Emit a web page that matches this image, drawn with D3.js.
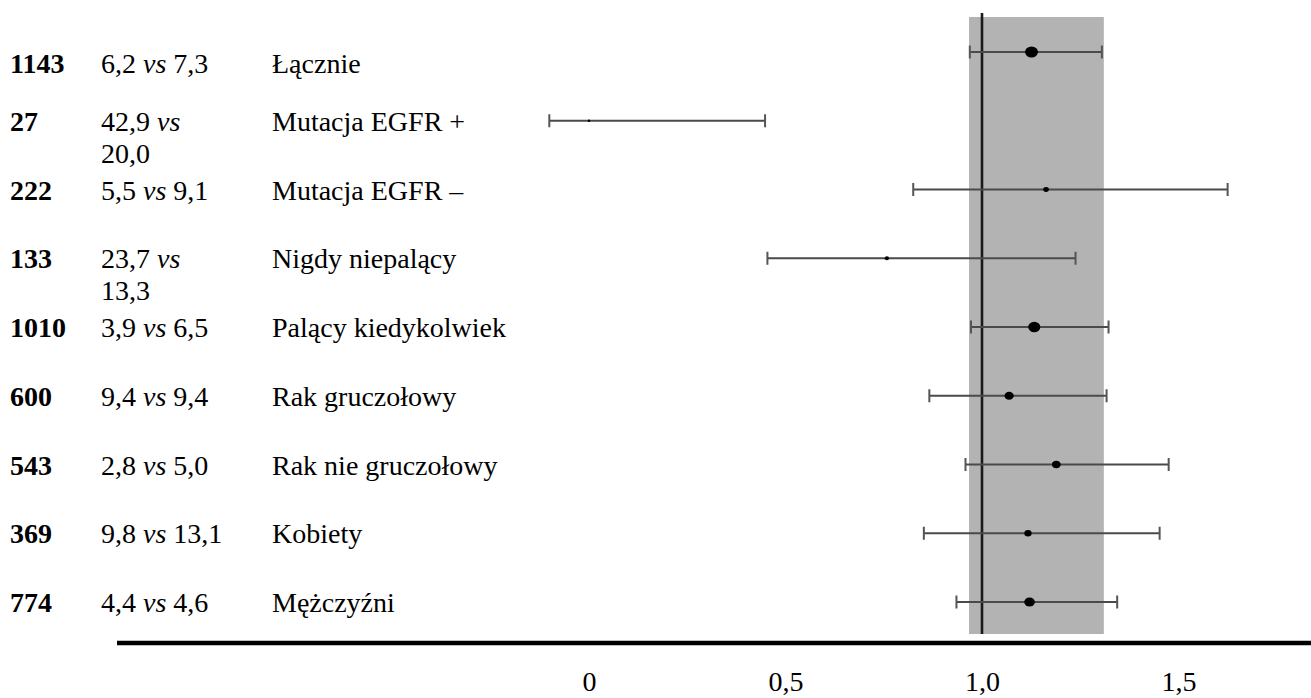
<!DOCTYPE html>
<html>
<head>
<meta charset="utf-8">
<script src="https://cdn.jsdelivr.net/npm/d3@7"></script>
<style>
  html, body { margin: 0; padding: 0; background: #fff; }
  svg { display: block; }
  text { font-family: "Liberation Serif", "Times New Roman", serif; fill: #000; }
</style>
</head>
<body>
<svg id="chart" width="1311" height="698"></svg>
<script>
// ---- data ----
const patients   = [1143, 27, 222, 133, 1010, 600, 543, 369, 774];
const rateA      = ["6,2", "42,9", "5,5", "23,7", "3,9", "9,4", "2,8", "9,8", "4,4"];
const rateB      = ["7,3", "20,0", "9,1", "13,3", "6,5", "9,4", "5,0", "13,1", "4,6"];
const subgroups  = ["Łącznie", "Mutacja EGFR +", "Mutacja EGFR –", "Nigdy niepalący",
                    "Palący kiedykolwiek", "Rak gruczołowy", "Rak nie gruczołowy",
                    "Kobiety", "Mężczyźni"];
const hr         = [1.126, 0.0, 1.163, 0.758, 1.133, 1.069, 1.189, 1.117, 1.121];
const ciLow      = [0.969, -0.101, 0.825, 0.454, 0.972, 0.866, 0.958, 0.852, 0.935];
const ciHigh     = [1.305, 0.448, 1.625, 1.238, 1.322, 1.317, 1.475, 1.452, 1.344];
const bandRange  = [0.967, 1.31];
const refValue   = 1.0;
const tickValues = [0, 0.5, 1.0, 1.5];
const tickLabels = ["0", "0,5", "1,0", "1,5"];

// ---- layout ----
const svg = d3.select("#chart");
const FS = 28;
const x = d3.scaleLinear().domain([0, 1]).range([589, 982]);
const y = d3.scaleLinear().domain([0, patients.length - 1]).range([52, 602]);
const r = d3.scaleSqrt().domain([0, d3.max(patients)]).range([0, 5.6]);

const rows = patients.map((n, i) => ({
  n, a: rateA[i], b: rateB[i], name: subgroups[i],
  hr: hr[i], lo: ciLow[i], hi: ciHigh[i], i
}));

// grey band
svg.append("rect")
  .attr("x", x(bandRange[0]))
  .attr("y", 17)
  .attr("width", x(bandRange[1]) - x(bandRange[0]))
  .attr("height", 634 - 17)
  .attr("fill", "#b3b3b3");

// reference line
svg.append("line")
  .attr("x1", x(refValue)).attr("x2", x(refValue))
  .attr("y1", 13).attr("y2", 634)
  .attr("stroke", "#1a1a1a").attr("stroke-width", 2.6);

// whiskers
const g = svg.append("g");
const cap = 6.5;
const rowG = g.selectAll("g.row").data(rows).join("g").attr("class", "row");
rowG.append("line")
  .attr("x1", d => x(d.lo)).attr("x2", d => x(d.hi))
  .attr("y1", d => y(d.i)).attr("y2", d => y(d.i))
  .attr("stroke", "#4a4a4a").attr("stroke-width", 1.8);
rowG.append("line")
  .attr("x1", d => x(d.lo)).attr("x2", d => x(d.lo))
  .attr("y1", d => y(d.i) - cap).attr("y2", d => y(d.i) + cap)
  .attr("stroke", "#555").attr("stroke-width", 2);
rowG.append("line")
  .attr("x1", d => x(d.hi)).attr("x2", d => x(d.hi))
  .attr("y1", d => y(d.i) - cap).attr("y2", d => y(d.i) + cap)
  .attr("stroke", "#555").attr("stroke-width", 2);
rowG.append("ellipse")
  .attr("cx", d => x(d.hr)).attr("cy", d => y(d.i))
  .attr("rx", d => Math.max(1.3, r(d.n) * 1.15))
  .attr("ry", d => Math.max(1.2, r(d.n)))
  .attr("fill", "#000");

// text columns
const textY = d => y(d.i) + 10 + (d.i === 0 ? 11 : 0);
const tg = svg.append("g").attr("font-size", FS);
tg.selectAll("text.n").data(rows).join("text")
  .attr("class", "n")
  .attr("x", 10).attr("y", textY)
  .attr("font-weight", "bold")
  .text(d => d.n);

const wrapWidth = 128;
tg.selectAll("text.rate").data(rows).join("text")
  .attr("class", "rate")
  .attr("x", 101).attr("y", textY)
  .each(function(d) {
    const t = d3.select(this);
    t.append("tspan").text(d.a + " ");
    t.append("tspan").attr("font-style", "italic").text("vs");
    const last = t.append("tspan").text(" " + d.b);
    if (this.getComputedTextLength() > wrapWidth) {
      last.remove();
      t.append("tspan").attr("x", 101).attr("dy", 32).text(d.b);
    }
  });

tg.selectAll("text.name").data(rows).join("text")
  .attr("class", "name")
  .attr("x", 272).attr("y", textY)
  .text(d => d.name);

// x axis
svg.append("line")
  .attr("x1", 117).attr("x2", 1311)
  .attr("y1", 643).attr("y2", 643)
  .attr("stroke", "#000").attr("stroke-width", 4.5);

const axis = d3.axisBottom(x)
  .tickValues(tickValues)
  .tickSize(0)
  .tickPadding(0)
  .tickFormat((d, i) => tickLabels[i]);
const ax = svg.append("g")
  .attr("transform", "translate(0,691)")
  .call(axis);
ax.select(".domain").remove();
ax.selectAll("text")
  .attr("font-size", FS)
  .attr("font-family", "Liberation Serif, Times New Roman, serif")
  .attr("dy", "0")
  .attr("y", 0)
  .attr("fill", "#000");
</script>
</body>
</html>
